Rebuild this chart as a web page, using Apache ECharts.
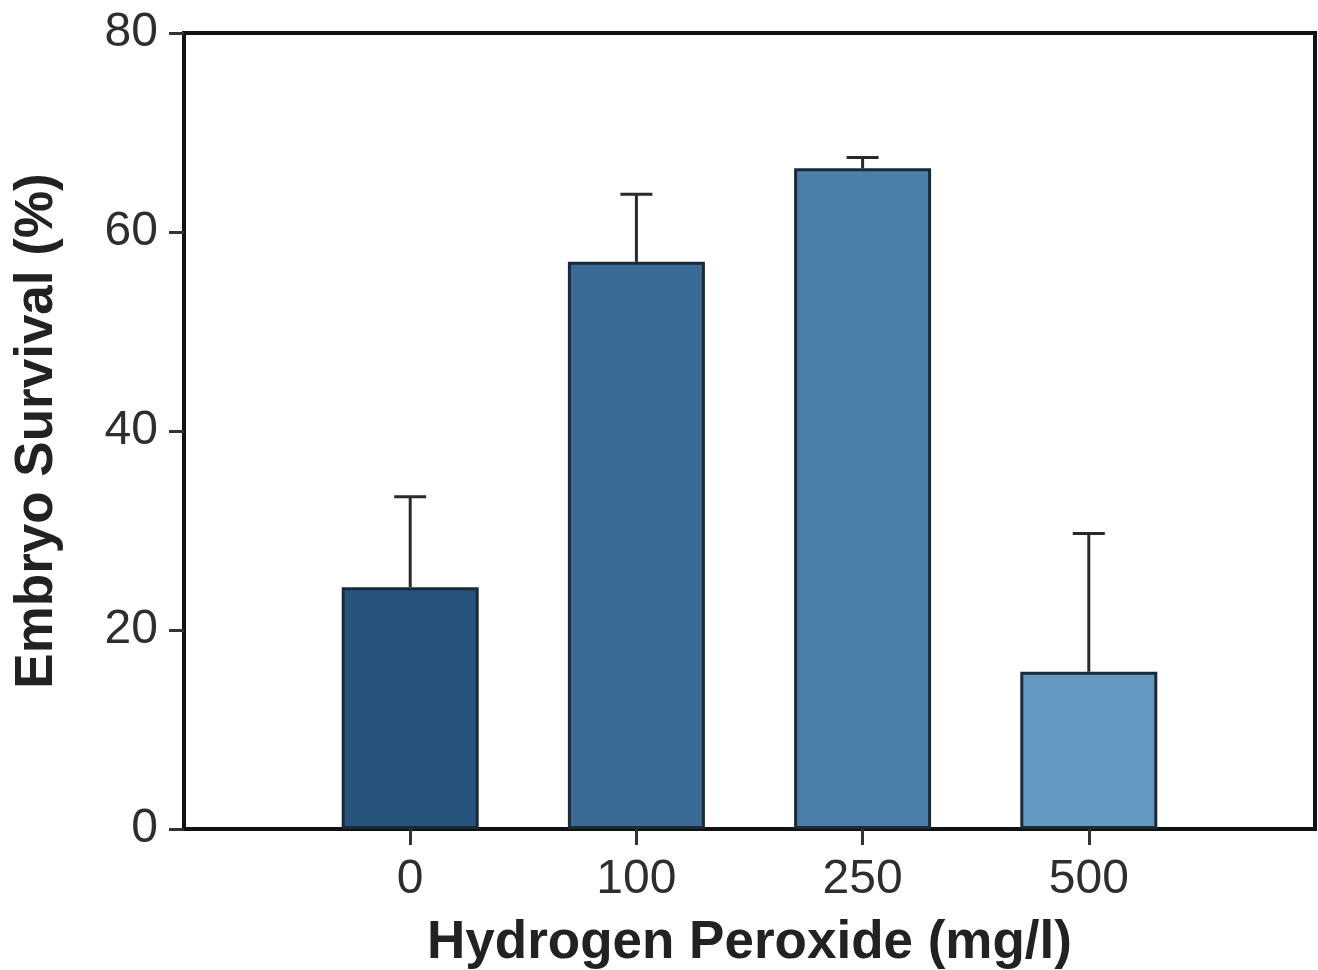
<!DOCTYPE html>
<html>
<head>
<meta charset="utf-8">
<script src="https://cdn.jsdelivr.net/npm/echarts@6/dist/echarts.min.js"></script>
<style>html,body{margin:0;padding:0;background:#fff}#c{width:1318px;height:970px}</style>
</head>
<body>
<div id="c"></div>
<script>
// Data
var categories = ['0', '100', '250', '500'];
var survival = [24.3, 57.0, 66.4, 15.8];
var errorTop = [33.4, 63.8, 67.5, 29.7];
var yTicks = [0, 20, 40, 60, 80];

var barColors = ['#26547d', '#3b6a95', '#4b7ea9', '#6499c2'];

// pad category axis with blank slots at both ends
var axisCats = [''].concat(categories).concat(['']);
var barData = [null].concat(survival.map(function (v, i) {
  return { value: v, itemStyle: { color: barColors[i] } };
})).concat([null]);
var errData = categories.map(function (c, i) {
  return [i + 1, survival[i], errorTop[i]];
});

var chart = echarts.init(document.getElementById('c'), null, { renderer: 'canvas' });
var font = 'Liberation Sans, Arial, Helvetica, sans-serif';
chart.setOption({
  animation: false,
  backgroundColor: '#fff',
  grid: {
    left: 184, right: 3, top: 33, bottom: 141,
    outerBoundsMode: 'none', containLabel: false,
    show: true, borderColor: '#111', borderWidth: 4, backgroundColor: 'transparent'
  },
  xAxis: {
    type: 'category',
    data: axisCats,
    boundaryGap: false,
    axisLine: { lineStyle: { color: '#111', width: 4 } },
    axisTick: { length: 16, lineStyle: { color: '#333', width: 3 },
      interval: function (idx, val) { return val !== ''; } },
    axisLabel: { color: '#2e2e2e', fontSize: 48, fontFamily: font, margin: 27 },
    name: 'Hydrogen Peroxide (mg/l)',
    nameLocation: 'middle',
    nameGap: 88,
    nameTextStyle: { color: '#222', fontSize: 53, fontWeight: 'bold', fontFamily: font }
  },
  yAxis: {
    type: 'value',
    min: yTicks[0], max: yTicks[yTicks.length - 1], interval: 20,
    axisLine: { show: true, lineStyle: { color: '#111', width: 4 } },
    axisTick: { show: true, length: 15, lineStyle: { color: '#333', width: 3 } },
    axisLabel: { color: '#2e2e2e', fontSize: 48, fontFamily: font, margin: 26 },
    splitLine: { show: false },
    name: 'Embryo Survival (%)',
    nameLocation: 'middle',
    nameGap: 120,
    nameTextStyle: { color: '#222', fontSize: 53, fontWeight: 'bold', fontFamily: font }
  },
  series: [
    {
      type: 'bar',
      data: barData,
      barWidth: 137,
      itemStyle: { borderColor: '#1a2a3a', borderWidth: 3 },
      z: 2
    },
    {
      type: 'custom',
      data: errData,
      z: 3,
      renderItem: function (params, api) {
        var x = api.value(0);
        var base = api.coord([x, api.value(1)]);
        var top = api.coord([x, api.value(2)]);
        var half = 16;
        var st = { stroke: '#2a2a2a', lineWidth: 3 };
        return {
          type: 'group',
          children: [
            { type: 'line', shape: { x1: base[0], y1: base[1], x2: top[0], y2: top[1] }, style: st },
            { type: 'line', shape: { x1: top[0] - half, y1: top[1], x2: top[0] + half, y2: top[1] }, style: st }
          ]
        };
      }
    }
  ]
});
</script>
</body>
</html>
